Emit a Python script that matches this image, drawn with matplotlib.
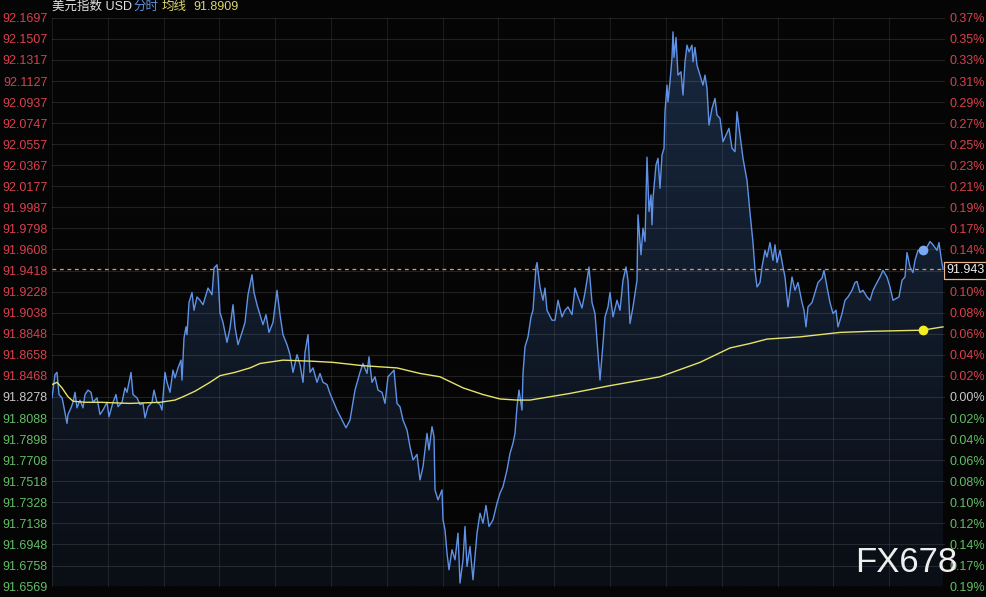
'''
    Дневной график индекса доллара (分时 + 均线)
'''
import numpy as np
import matplotlib
matplotlib.use('Agg')
import matplotlib.pyplot as plt
from matplotlib.colors import LinearSegmentedColormap

plt.rcParams['font.family'] = ['Liberation Sans', 'Noto Sans CJK SC', 'DejaVu Sans']

'''
    Данные снятые с картинки;
'''

session_len = 893  # минут в сессии

minutes = [
    0, 3, 5, 7, 10, 11, 15, 16, 19, 21,
    23, 25, 28, 31, 33, 36, 39, 41, 45, 48,
    51, 55, 57, 61, 64, 66, 70, 73, 75, 79,
    81, 85, 88, 91, 93, 96, 100, 102, 105, 108,
    110, 113, 115, 118, 121, 123, 126, 129, 130, 132,
    134, 135, 137, 140, 142, 145, 148, 151, 156, 160,
    162, 165, 166, 168, 171, 175, 178, 181, 183, 186,
    190, 193, 196, 200, 202, 205, 208, 211, 214, 217,
    221, 225, 228, 231, 235, 238, 241, 245, 248, 251,
    253, 256, 258, 261, 265, 268, 271, 275, 278, 285,
    290, 294, 298, 303, 308, 311, 315, 317, 320, 323,
    326, 330, 333, 336, 340, 342, 345, 348, 351, 355,
    358, 361, 365, 368, 371, 375, 377, 380, 382, 383,
    386, 390, 391, 393, 395, 397, 400, 403, 406, 408,
    411, 413, 415, 418, 421, 425, 428, 431, 434, 437,
    441, 445, 448, 451, 455, 458, 461, 463, 465, 467,
    470, 471, 473, 476, 479, 481, 484, 485, 488, 491,
    493, 495, 500, 503, 506, 510, 513, 516, 520, 523,
    526, 530, 533, 535, 537, 540, 543, 545, 548, 551,
    553, 556, 558, 561, 565, 568, 571, 574, 576, 578,
    581, 585, 586, 589, 591, 593, 595, 597, 599, 600,
    601, 604, 606, 608, 610, 612, 613, 615, 616, 618,
    620, 621, 622, 624, 626, 629, 631, 633, 635, 637,
    640, 641, 643, 645, 648, 651, 653, 655, 657, 660,
    663, 665, 668, 671, 674, 677, 680, 683, 685, 688,
    691, 695, 698, 701, 703, 705, 708, 710, 713, 715,
    718, 721, 723, 725, 728, 731, 733, 736, 740, 743,
    746, 750, 752, 754, 756, 760, 763, 766, 770, 772,
    775, 778, 781, 784, 786, 790, 793, 796, 800, 803,
    805, 808, 811, 815, 818, 821, 825, 828, 831, 835,
    838, 841, 845, 847, 850, 853, 855, 858, 861, 863,
    866, 871, 875, 878, 881, 885, 887, 889, 891,
]

prices = [
    91.827, 91.848, 91.850, 91.830, 91.827, 91.823, 91.804, 91.812, 91.818, 91.823,
    91.832, 91.818, 91.825, 91.818, 91.830, 91.834, 91.832, 91.823, 91.827, 91.812,
    91.816, 91.823, 91.810, 91.823, 91.830, 91.819, 91.823, 91.836, 91.832, 91.850,
    91.830, 91.827, 91.821, 91.822, 91.809, 91.819, 91.823, 91.834, 91.823, 91.821,
    91.816, 91.850, 91.841, 91.832, 91.852, 91.845, 91.854, 91.861, 91.843, 91.881,
    91.891, 91.884, 91.913, 91.922, 91.906, 91.918, 91.915, 91.911, 91.926, 91.920,
    91.944, 91.947, 91.938, 91.904, 91.895, 91.877, 91.890, 91.911, 91.891, 91.875,
    91.886, 91.895, 91.920, 91.938, 91.922, 91.911, 91.902, 91.893, 91.902, 91.886,
    91.895, 91.924, 91.902, 91.884, 91.875, 91.866, 91.850, 91.866, 91.857, 91.841,
    91.868, 91.884, 91.850, 91.854, 91.841, 91.849, 91.841, 91.839, 91.831, 91.816,
    91.807, 91.800, 91.807, 91.834, 91.850, 91.858, 91.849, 91.864, 91.841, 91.846,
    91.834, 91.832, 91.822, 91.846, 91.850, 91.852, 91.822, 91.819, 91.807, 91.798,
    91.783, 91.771, 91.776, 91.753, 91.765, 91.795, 91.780, 91.801, 91.792, 91.744,
    91.735, 91.744, 91.717, 91.708, 91.687, 91.672, 91.690, 91.681, 91.705, 91.660,
    91.681, 91.711, 91.675, 91.693, 91.663, 91.705, 91.723, 91.714, 91.730, 91.711,
    91.717, 91.732, 91.741, 91.747, 91.762, 91.777, 91.786, 91.795, 91.819, 91.834,
    91.816, 91.849, 91.873, 91.882, 91.900, 91.906, 91.945, 91.949, 91.927, 91.915,
    91.926, 91.906, 91.897, 91.897, 91.915, 91.900, 91.906, 91.909, 91.902, 91.926,
    91.918, 91.908, 91.922, 91.933, 91.945, 91.913, 91.903, 91.879, 91.843, 91.876,
    91.900, 91.909, 91.922, 91.900, 91.915, 91.906, 91.933, 91.945, 91.933, 91.894,
    91.909, 91.933, 91.992, 91.956, 91.980, 91.968, 92.044, 91.995, 92.010, 91.983,
    92.007, 92.037, 92.043, 92.016, 92.046, 92.052, 92.085, 92.109, 92.094, 92.112,
    92.134, 92.157, 92.134, 92.152, 92.118, 92.121, 92.100, 92.130, 92.145, 92.139,
    92.145, 92.130, 92.143, 92.127, 92.118, 92.109, 92.118, 92.106, 92.073, 92.088,
    92.097, 92.082, 92.079, 92.058, 92.064, 92.070, 92.052, 92.049, 92.085, 92.064,
    92.043, 92.023, 91.994, 91.967, 91.942, 91.927, 91.931, 91.945, 91.960, 91.954,
    91.967, 91.951, 91.965, 91.949, 91.960, 91.945, 91.936, 91.909, 91.936, 91.924,
    91.931, 91.913, 91.906, 91.891, 91.909, 91.913, 91.922, 91.931, 91.935, 91.942,
    91.927, 91.913, 91.903, 91.906, 91.891, 91.903, 91.915, 91.918, 91.924, 91.931,
    91.932, 91.922, 91.924, 91.918, 91.915, 91.924, 91.931, 91.936, 91.942, 91.936,
    91.927, 91.915, 91.917, 91.918, 91.933, 91.936, 91.958, 91.945, 91.940, 91.951,
    91.960, 91.960, 91.963, 91.968, 91.965, 91.960, 91.967, 91.954, 91.943,
]

avg_minutes = [0, 5, 10, 16, 21, 33, 48, 78, 108, 123,
               131, 143, 158, 168, 183, 198, 208, 231, 261, 281,
               311, 345, 368, 388, 411, 431, 448, 465, 478, 518,
               558, 608, 648, 678, 698, 715, 748, 788, 818, 870, 891]
avg_prices = [91.839, 91.841, 91.836, 91.828, 91.824, 91.823, 91.823, 91.822, 91.823, 91.825,
              91.828, 91.833, 91.841, 91.847, 91.850, 91.854, 91.858, 91.861, 91.860, 91.859,
              91.856, 91.854, 91.849, 91.846, 91.836, 91.830, 91.826, 91.825, 91.825, 91.831,
              91.838, 91.846, 91.859, 91.872, 91.876, 91.880, 91.882, 91.886, 91.887, 91.888, 91.891]

price_labels = ['91.6569', '91.6758', '91.6948', '91.7138', '91.7328', '91.7518', '91.7708',
                '91.7898', '91.8088', '91.8278', '91.8468', '91.8658', '91.8848', '91.9038',
                '91.9228', '91.9418', '91.9608', '91.9798', '91.9987', '92.0177', '92.0367',
                '92.0557', '92.0747', '92.0937', '92.1127', '92.1317', '92.1507', '92.1697']
pct_labels = ['0.19%', '0.17%', '0.14%', '0.12%', '0.10%', '0.08%', '0.06%', '0.04%', '0.02%',
              '0.00%', '0.02%', '0.04%', '0.06%', '0.08%', '0.10%', '0.12%', '0.14%', '0.17%',
              '0.19%', '0.21%', '0.23%', '0.25%', '0.27%', '0.29%', '0.31%', '0.33%', '0.35%', '0.37%']

marker_minute = 871
avg_last = '91.8909'

W, H = 987, 597
BG = '#050505'
RED = '#d8404c'
GREEN = '#62bd66'
ZERO = '#c8c8c8'


def label_color(i, zero_idx):
    if i < zero_idx:
        return GREEN
    if i == zero_idx:
        return ZERO
    return RED


def make_plot():
    assert len(minutes) == len(prices)
    assert len(avg_minutes) == len(avg_prices)

    fig = plt.figure(figsize=(W / 100, H / 100), dpi=100, facecolor=BG)
    ax = fig.add_axes([52 / W, 1 - 586.5 / H, 893 / W, (586.5 - 17.8) / H])
    ax.set_facecolor(BG)

    ticks = [float(s) for s in price_labels]
    ymin, ymax = ticks[0], ticks[-1]
    zero_idx = pct_labels.index('0.00%')

    # заливка под линией, градиент
    poly = ax.fill_between(minutes, prices, ymin, facecolor='none', edgecolor='none')
    grad = np.linspace(0, 1, 256).reshape(-1, 1)
    cmap = LinearSegmentedColormap.from_list('fill', ['#0a0e15', '#18283f'])
    img = ax.imshow(grad, cmap=cmap, aspect='auto', origin='lower',
                    extent=[0, session_len, ymin, ymax], zorder=1)
    img.set_clip_path(poly.get_paths()[0], transform=ax.transData)

    # сетка
    for y in ticks:
        ax.axhline(y, color='white', alpha=0.11, lw=0.8, zorder=2)
    for x in np.linspace(0, session_len, 17):
        ax.axvline(x, color='white', alpha=0.09, lw=0.8, zorder=2)

    ax.plot(minutes, prices, color='#5f92e6', lw=1.0, zorder=3)
    ax.plot(avg_minutes, avg_prices, color='#e6e36a', lw=1.0, zorder=3)
    ax.axhline(prices[-1], color='#e09a66', lw=0.9, ls=(0, (3, 3)), zorder=4)

    i = minutes.index(marker_minute)
    ax.plot(marker_minute, prices[i], 'o', color='#7aa8f2', ms=6, zorder=5)
    ax.plot(marker_minute, np.interp(marker_minute, avg_minutes, avg_prices), 'o',
            color='#f4ee1c', ms=6, zorder=5)

    ax.set_xlim(0, session_len)
    ax.set_ylim(ymin, ymax)
    ax.set_xticks([])
    ax.set_yticks(ticks)
    ax.set_yticklabels(price_labels)
    ax.tick_params(axis='y', length=0, pad=3, labelsize=9)
    for k, lab in enumerate(ax.get_yticklabels()):
        lab.set_color(label_color(k, zero_idx))
    for s in ax.spines.values():
        s.set_visible(False)

    ax2 = ax.twinx()
    ax2.set_ylim(ymin, ymax)
    ax2.set_yticks(ticks)
    ax2.set_yticklabels(pct_labels)
    ax2.tick_params(axis='y', length=0, pad=3, labelsize=9)
    for k, lab in enumerate(ax2.get_yticklabels()):
        lab.set_color(label_color(k, zero_idx))
    for s in ax2.spines.values():
        s.set_visible(False)

    # заголовок
    ty = 1 - 7 / H
    fig.text(52 / W, ty, '美元指数 USD', color='#e2e2e2', fontsize=9, va='center')
    fig.text(133 / W, ty, '分时', color='#5f8fdc', fontsize=9, va='center')
    fig.text(162 / W, ty, '均线', color='#dcd66a', fontsize=9, va='center')
    fig.text(193 / W, ty, avg_last, color='#dcd66a', fontsize=9, va='center')

    # последняя цена
    fig.text(966 / W, 1 - 270 / H, f'{prices[-1]:.3f}', color='#f0f0f0', fontsize=9,
             ha='center', va='center',
             bbox=dict(boxstyle='square,pad=0.2', fc='black', ec='#e8b890', lw=0.9))

    fig.text(906 / W, 1 - 562 / H, 'FX678', color='#eeeeee', fontsize=25,
             ha='center', va='center', zorder=10)

    fig.savefig('out.png', dpi=100, facecolor=BG)


if __name__ == '__main__':
    make_plot()
